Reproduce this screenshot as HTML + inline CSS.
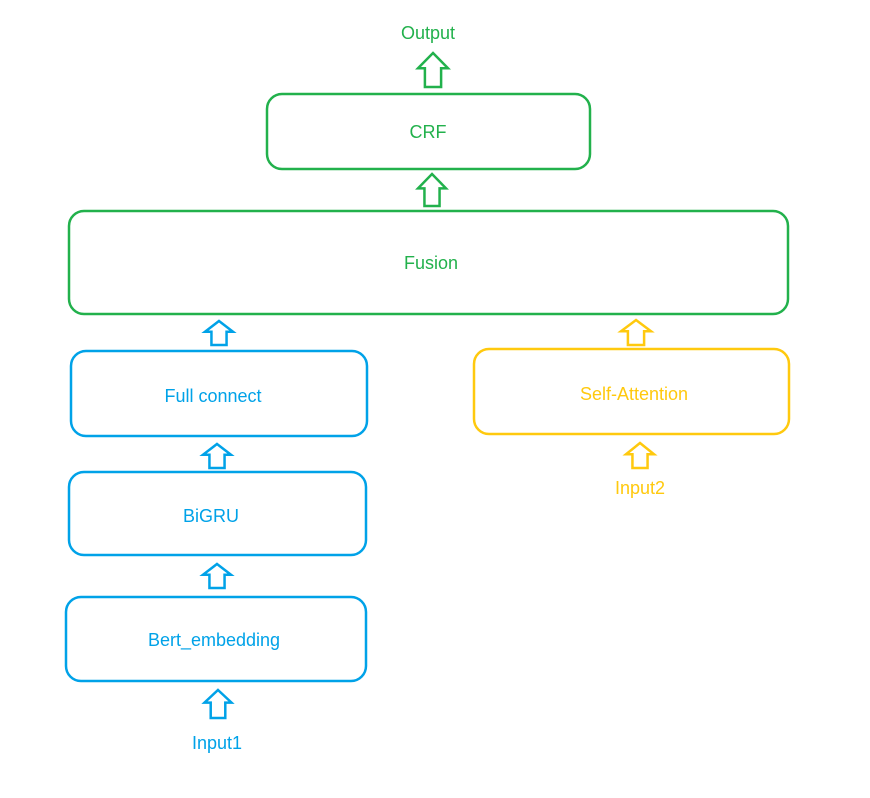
<!DOCTYPE html>
<html><head><meta charset="utf-8"><style>
html,body{margin:0;padding:0;background:#fff;}
svg text{font-family:"Liberation Sans",sans-serif;font-size:18px;text-anchor:middle;dominant-baseline:central;}
</style></head><body>
<svg id="s" width="870" height="793" viewBox="0 0 870 793" xmlns="http://www.w3.org/2000/svg">
<g fill="none" stroke-width="2.5">
<rect x="267" y="94" width="323" height="75" rx="15" stroke="#22b14c"/>
<rect x="69" y="211" width="719" height="103" rx="15" stroke="#22b14c"/>
<rect x="71" y="351" width="296" height="85" rx="15" stroke="#00a2e8"/>
<rect x="69" y="472" width="297" height="83" rx="15" stroke="#00a2e8"/>
<rect x="66" y="597" width="300" height="84" rx="15" stroke="#00a2e8"/>
<rect x="474" y="349" width="315" height="85" rx="15" stroke="#ffc90e"/>
</g>
<g id="arrows" fill="none" stroke-width="2.5" stroke-linejoin="miter"></g>
<text x="428" y="33" fill="#22b14c">Output</text>
<text x="428" y="132" fill="#22b14c">CRF</text>
<text x="431" y="263" fill="#22b14c">Fusion</text>
<text x="213" y="396" fill="#00a2e8">Full  connect</text>
<text x="211" y="516" fill="#00a2e8">BiGRU</text>
<text x="214" y="640" fill="#00a2e8">Bert_embedding</text>
<text x="217" y="743" fill="#00a2e8">Input1</text>
<text x="634" y="394" fill="#ffc90e">Self-Attention</text>
<text x="640" y="488" fill="#ffc90e">Input2</text>
</svg>
<script>
var A=[[433,53,30,34,"#22b14c"],[432,174,28,32,"#22b14c"],[219,321,28,24,"#00a2e8"],[217,444,28,24,"#00a2e8"],[217,564,28,24,"#00a2e8"],[218,690,27,28,"#00a2e8"],[636,320,30,25,"#ffc90e"],[640,443,28,25,"#ffc90e"]];
var g=document.getElementById("arrows"),ns="http://www.w3.org/2000/svg";
A.forEach(function(a){var cx=a[0],t=a[1],w=a[2],h=a[3],hh=h*0.45,sw=w*0.27;
var p=[[cx,t],[cx+w/2,t+hh],[cx+sw,t+hh],[cx+sw,t+h],[cx-sw,t+h],[cx-sw,t+hh],[cx-w/2,t+hh]];
var e=document.createElementNS(ns,"polygon");e.setAttribute("points",p.map(function(q){return q.join(",")}).join(" "));e.setAttribute("stroke",a[4]);g.appendChild(e);});
</script>
</body></html>
